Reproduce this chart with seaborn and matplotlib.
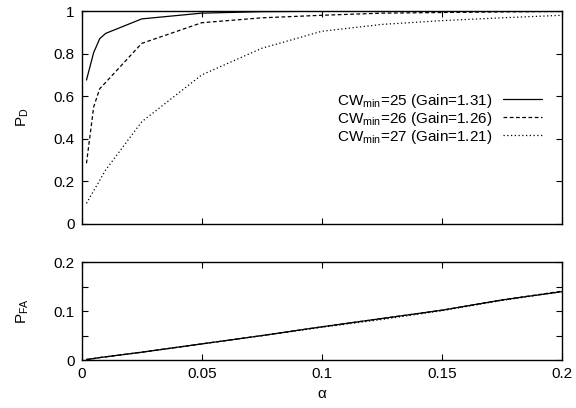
import pandas as pd
import matplotlib
matplotlib.use('Agg')
import matplotlib.pyplot as plt
from matplotlib.ticker import MultipleLocator
import seaborn as sns


# Data
alpha = [0.002, 0.005, 0.0075, 0.01, 0.025, 0.05, 0.075, 0.1, 0.125, 0.15, 0.175, 0.2]
labels = ['CW$_{\\mathrm{min}}$=25 (Gain=1.31)',
          'CW$_{\\mathrm{min}}$=26 (Gain=1.26)',
          'CW$_{\\mathrm{min}}$=27 (Gain=1.21)']

pd_25 = [0.676, 0.805, 0.87, 0.895, 0.963, 0.99, 0.997, 0.999, 1.0, 1.0, 1.0, 1.0]
pd_26 = [0.285, 0.55, 0.635, 0.665, 0.848, 0.945, 0.968, 0.98, 0.99, 0.993, 0.996, 0.998]
pd_27 = [0.097, 0.156, 0.205, 0.254, 0.48, 0.70, 0.825, 0.905, 0.937, 0.955, 0.968, 0.98]

pfa_25 = [0.001, 0.003, 0.005, 0.0065, 0.016, 0.033, 0.05, 0.068, 0.085, 0.102, 0.123, 0.14]
pfa_26 = [0.001, 0.003, 0.005, 0.0065, 0.016, 0.033, 0.05, 0.068, 0.085, 0.102, 0.123, 0.141]
pfa_27 = [0.001, 0.003, 0.005, 0.0065, 0.016, 0.033, 0.05, 0.067, 0.083, 0.101, 0.122, 0.14]

styles = ['-', (0, (3, 2)), (0, (1, 2))]

sns.set_style('ticks')
plt.rcParams['font.family'] = ['Liberation Sans', 'DejaVu Sans']
plt.rcParams['mathtext.fontset'] = 'custom'
plt.rcParams['mathtext.rm'] = 'Liberation Sans'
plt.rcParams['mathtext.it'] = 'Liberation Sans'
plt.rcParams['font.size'] = 11
plt.rcParams['text.color'] = 'black'
plt.rcParams['axes.labelcolor'] = 'black'
plt.rcParams['xtick.color'] = 'black'
plt.rcParams['ytick.color'] = 'black'

fig = plt.figure(figsize=(5.76, 4.08), dpi=100)
ax1 = fig.add_axes([0.1418, 0.451, 0.834, 0.522])
ax2 = fig.add_axes([0.1418, 0.1176, 0.834, 0.2394])

# Top panel: detection probability
for vals, lab, ls in zip([pd_25, pd_26, pd_27], labels, styles):
    sns.lineplot(x=alpha, y=vals, ax=ax1, color='black', linewidth=0.9,
                 linestyle=ls, label=lab)

# Bottom panel: false alarm probability
for vals, ls in zip([pfa_25, pfa_26, pfa_27], styles):
    sns.lineplot(x=alpha, y=vals, ax=ax2, color='black', linewidth=0.9,
                 linestyle=ls)

for ax in (ax1, ax2):
    ax.set_xlim(0, 0.2)
    ax.xaxis.set_major_locator(MultipleLocator(0.05))
    ax.tick_params(direction='in', top=True, right=True, length=4,
                   width=0.8, labelsize=11, pad=5)
    ax.tick_params(which='minor', direction='in', left=True, right=True,
                   length=4, width=0.8)
    for sp in ax.spines.values():
        sp.set_linewidth(1.0)
        sp.set_color('black')

ax1.set_ylim(0, 1)
ax1.set_yticks([0, 0.2, 0.4, 0.6, 0.8, 1.0])
ax1.set_yticklabels(['0', '0.2', '0.4', '0.6', '0.8', '1'])
ax1.tick_params(labelbottom=False)
ax1.set_ylabel('P$_\\mathrm{D}$', fontsize=11, labelpad=16)

ax2.set_ylim(0, 0.2)
ax2.set_yticks([0, 0.1, 0.2])
ax2.set_yticklabels(['0', '0.1', '0.2'])
ax2.yaxis.set_minor_locator(MultipleLocator(0.05))
ax2.set_xticks([0, 0.05, 0.1, 0.15, 0.2])
ax2.set_xticklabels(['0', '0.05', '0.1', '0.15', '0.2'])
ax2.set_xlabel('α', fontsize=11)
ax2.set_ylabel('P$_\\mathrm{FA}$', fontsize=11, labelpad=16)

ax1.legend(loc='upper right', bbox_to_anchor=(0.97, 0.65), frameon=False,
           markerfirst=False, handlelength=2.5, labelspacing=0.0,
           handletextpad=0.7, fontsize=11, borderaxespad=0)

fig.savefig('out.png', dpi=100)
